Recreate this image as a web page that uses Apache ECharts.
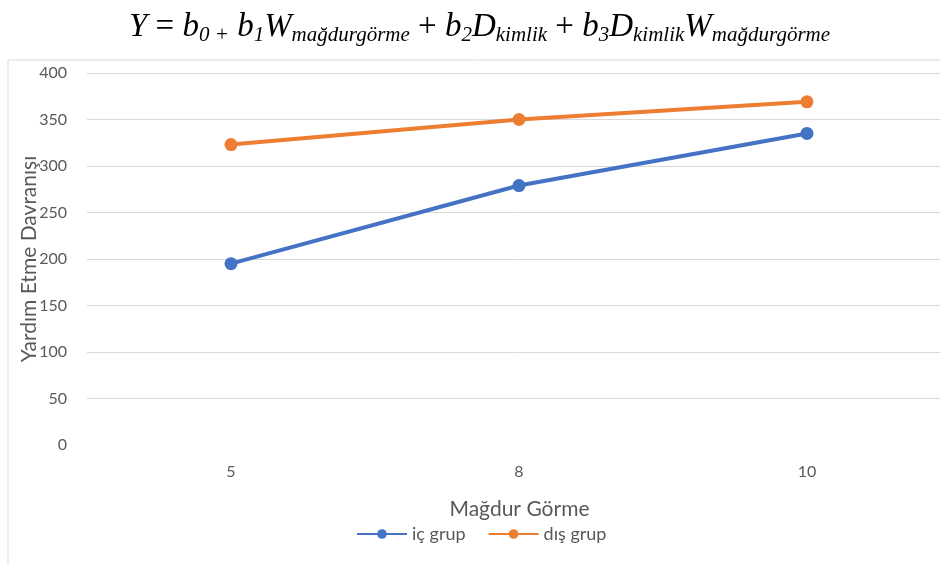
<!DOCTYPE html>
<html><head><meta charset="utf-8">
<script src="https://cdn.jsdelivr.net/npm/echarts@6/dist/echarts.min.js"></script>
<style>html,body{margin:0;padding:0;background:#fff}#c{width:940px;height:565px}</style>
</head><body><div id="c"></div>
<script>
const categories = ['5', '8', '10'];
const icGrup = [195, 279, 335];
const disGrup = [323, 350, 369];
const seriesNames = ['iç grup', 'dış grup'];
const yTicks = {min: 0, max: 400, interval: 50};

const chart = echarts.init(document.getElementById('c'));
const serif = '"Liberation Serif", "Times New Roman", serif';
const sans = 'Lato, "Open Sans", sans-serif';
const mainSz = 33, subSz = 21;
const catIdx = categories.map((c, i) => i);
const toPairs = arr => arr.map((v, i) => [i, v]);
chart.setOption({
  animation: false,
  backgroundColor: '#fff',
  graphic: [{
    type: 'rect', z: -1,
    shape: {x: 8, y: 60, width: 1000, height: 600},
    style: {fill: '#fff', stroke: '#d9d9d9', lineWidth: 1}
  }],
  title: {
    left: 124, top: 3,
    text: '{i|Y} {n|=} {i|b}{s|0 +} {i|b}{s|1}{i|W}{s|mağdurgörme} {n|+} {i|b}{s|2}{i|D}{s|kimlik} {n|+} {i|b}{s|3}{i|D}{s|kimlik}{i|W}{s|mağdurgörme}',
    textStyle: {
      fontFamily: serif, fontSize: mainSz, fontWeight: 'normal', color: '#000', lineHeight: 38,
      rich: {
        i: {fontFamily: serif, fontStyle: 'italic', fontWeight: 'normal', fontSize: mainSz, color: '#000', lineHeight: 38},
        n: {fontFamily: serif, fontWeight: 'normal', fontSize: mainSz, color: '#000', lineHeight: 38},
        s: {fontFamily: serif, fontStyle: 'italic', fontWeight: 'normal', fontSize: subSz, color: '#000', lineHeight: 19, verticalAlign: 'bottom'}
      }
    }
  },
  grid: {left: 87, right: 0, top: 73, bottom: 120, containLabel: false},
  legend: {
    bottom: 17, left: 351,
    itemWidth: 50, itemHeight: 12, itemGap: 22,
    data: seriesNames,
    textStyle: {fontFamily: sans, fontSize: 18, color: '#595959'}
  },
  xAxis: {
    type: 'value', min: -0.5, max: 2.462,
    axisLine: {show: false}, axisTick: {show: false}, splitLine: {show: false},
    axisLabel: {margin: 19, fontFamily: sans, fontSize: 16, color: '#595959',
      customValues: catIdx, formatter: v => categories[Math.round(v)]},
    name: 'Mağdur Görme', nameLocation: 'middle', nameGap: 54, nameMoveOverlap: false,
    nameTextStyle: {fontFamily: sans, fontSize: 21, color: '#595959', padding: [0, 0, 0, 12]}
  },
  yAxis: {
    type: 'value', min: yTicks.min, max: yTicks.max, interval: yTicks.interval,
    axisLine: {show: false}, axisTick: {show: false},
    axisLabel: {margin: 20, fontFamily: sans, fontSize: 16, color: '#595959'},
    splitLine: {lineStyle: {color: ['rgba(0,0,0,0)', '#d9d9d9', '#d9d9d9', '#d9d9d9', '#d9d9d9', '#d9d9d9', '#d9d9d9', '#d9d9d9', '#d9d9d9'], width: 1}},
    name: 'Yardım Etme Davranışı', nameLocation: 'middle', nameGap: 47, nameMoveOverlap: false,
    nameTextStyle: {fontFamily: sans, fontSize: 21, color: '#595959'}
  },
  series: [
    {name: seriesNames[0], type: 'line', data: toPairs(icGrup), symbol: 'circle', symbolSize: 13,
     lineStyle: {width: 4, color: '#4472C4'}, itemStyle: {color: '#4472C4'}},
    {name: seriesNames[1], type: 'line', data: toPairs(disGrup), symbol: 'circle', symbolSize: 13,
     lineStyle: {width: 4, color: '#ED7D31'}, itemStyle: {color: '#ED7D31'}}
  ]
});
</script></body></html>
